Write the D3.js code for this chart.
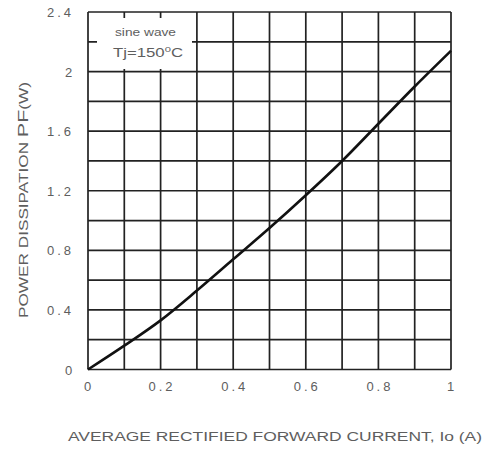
<!DOCTYPE html>
<html>
<head>
<meta charset="UTF-8">
<title>Power dissipation</title>
<style>
  body { margin: 0; background: white; }
  svg { display: block; background: white; }
  .lbl { fill: #5e5e5e; font-family: "Liberation Sans", Arial, sans-serif; }
  .grid line { stroke: #222; stroke-width: 1.7; }
</style>
<script src="https://cdnjs.cloudflare.com/ajax/libs/d3/7.8.5/d3.min.js"></script>
</head>
<body>
<div id="chart"></div>
<script>
// values
const currentA = [0, 0.1, 0.2, 0.3, 0.4, 0.5, 0.6, 0.7, 0.8, 0.9, 1.0];
const powerW   = [0, 0.16, 0.33, 0.53, 0.74, 0.95, 1.17, 1.40, 1.65, 1.90, 2.14];
const xTicks = [0, 0.2, 0.4, 0.6, 0.8, 1];
const yTicks = [0, 0.4, 0.8, 1.2, 1.6, 2, 2.4];
const xGrid = d3.range(0, 11).map(i => i / 10);
const yGrid = d3.range(0, 13).map(i => i / 5);

const W = 491, H = 449;
const plotL = 88, plotR = 451, plotT = 12, plotB = 369.5;

const svg = d3.select("#chart").append("svg")
  .attr("width", W).attr("height", H);

const x = d3.scaleLinear().domain([0, 1]).range([plotL, plotR]);
const y = d3.scaleLinear().domain([0, 2.4]).range([plotB, plotT]);

const grid = svg.append("g").attr("class", "grid");
grid.selectAll(".v").data(xGrid).enter().append("line")
  .attr("x1", d => x(d)).attr("x2", d => x(d))
  .attr("y1", plotT).attr("y2", plotB);
grid.selectAll(".h").data(yGrid).enter().append("line")
  .attr("x1", plotL).attr("x2", plotR)
  .attr("y1", d => y(d)).attr("y2", d => y(d));

// label box covering grid in top-left
svg.append("rect")
  .attr("x", 97).attr("y", 18).attr("width", 95).attr("height", 51)
  .attr("fill", "white");
svg.append("text").attr("class", "lbl")
  .attr("x", 115).attr("y", 36)
  .attr("font-size", 10)
  .attr("textLength", 61).attr("lengthAdjust", "spacingAndGlyphs")
  .text("sine wave");
const tj = svg.append("text").attr("class", "lbl")
  .attr("x", 113).attr("y", 57)
  .attr("font-size", 12)
  .attr("textLength", 70).attr("lengthAdjust", "spacingAndGlyphs");
tj.append("tspan").text("Tj=150");
tj.append("tspan").attr("font-size", 8).attr("dy", -5).text("0");
tj.append("tspan").attr("dy", 5).text("C");

// curve
const pts = currentA.map((c, i) => [c, powerW[i]]);
svg.append("path")
  .datum(pts)
  .attr("fill", "none")
  .attr("stroke", "#111")
  .attr("stroke-width", 2.6)
  .attr("d", d3.line().x(d => x(d[0])).y(d => y(d[1])).curve(d3.curveMonotoneX));

// tick labels
const fmt = d => (d === 0 || d % 1 === 0) ? String(d) : d3.format(".1f")(d);
svg.selectAll(".yt").data(yTicks).enter().append("text")
  .attr("class", "lbl")
  .attr("x", d => fmt(d).length > 1 ? 47 : 65)
  .attr("y", d => y(d) + 5)
  .attr("font-size", 13)
  .attr("textLength", d => fmt(d).length > 1 ? 24 : null)
  .attr("lengthAdjust", "spacing")
  .text(fmt);

svg.selectAll(".xt").data(xTicks).enter().append("text")
  .attr("class", "lbl")
  .attr("x", d => x(d) - (fmt(d).length > 1 ? 12 : 4))
  .attr("y", 391)
  .attr("font-size", 13)
  .attr("textLength", d => fmt(d).length > 1 ? 24 : null)
  .attr("lengthAdjust", "spacing")
  .text(fmt);

// axis titles
svg.append("text").attr("class", "lbl")
  .attr("x", 68).attr("y", 441)
  .attr("font-size", 12)
  .attr("textLength", 414)
  .attr("lengthAdjust", "spacingAndGlyphs")
  .text("AVERAGE RECTIFIED FORWARD CURRENT, Io (A)");

const yl = svg.append("text").attr("class", "lbl")
  .attr("transform", "translate(28,318) rotate(-90)")
  .attr("font-size", 12)
  .attr("textLength", 236)
  .attr("lengthAdjust", "spacingAndGlyphs");
yl.append("tspan").text("POWER DISSIPATION ");
yl.append("tspan").attr("font-size", 15).text("PF");
yl.append("tspan").text("(W)");
</script>
</body>
</html>
